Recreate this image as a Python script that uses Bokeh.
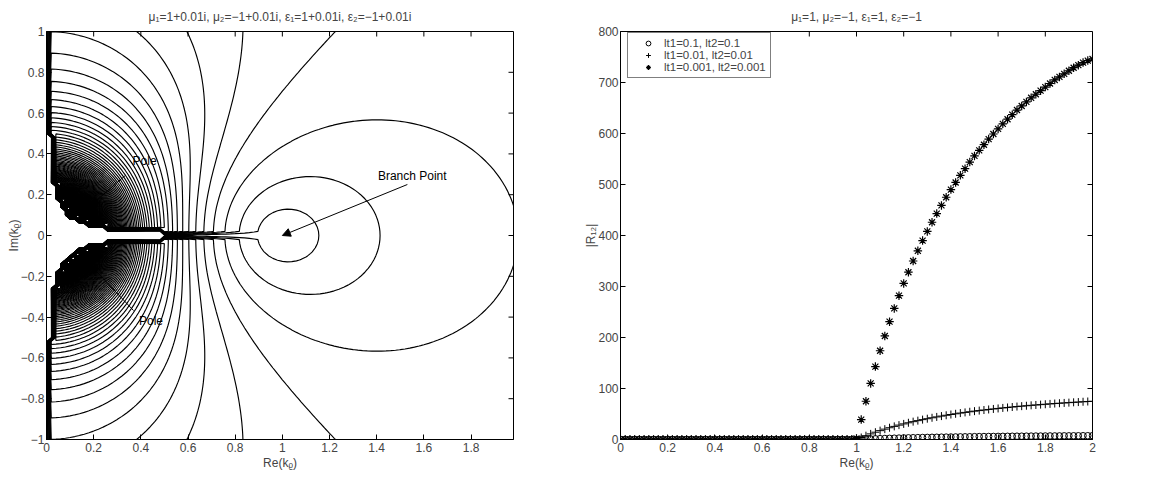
import numpy as np
from bokeh.plotting import figure
from bokeh.layouts import row
from bokeh.models import (FixedTicker, Range1d, Label, Arrow, NormalHead,
                          Legend, LegendItem, CustomJSTickFormatter)
from bokeh.embed import file_html
from bokeh.resources import INLINE

FONT = "Liberation Sans"
FS = "12px"
LEG_FS = "11.5px"

# ---------------- Left panel: |R12| over the complex k_rho plane ----------------
# material parameters, as given in the panel title
mu1, mu2 = 1 + 0.01j, -1 + 0.01j
eps1, eps2 = 1 + 0.01j, -1 + 0.01j
re_kr = np.linspace(0.0, 1.98, 100)      # Re(k_rho) sample grid
im_kr = np.linspace(-1.0, 1.0, 101)      # Im(k_rho) sample grid
contour_levels = np.arange(25, 5001, 25)  # |R12| contour levels

kr = re_kr[None, :] + 1j * im_kr[:, None]
kz1 = 1j * np.sqrt(kr ** 2 - mu1 * eps1)
kz2 = 1j * np.sqrt(kr ** 2 - mu2 * eps2)
R12_abs = np.abs((mu2 * kz1 - mu1 * kz2) / (mu2 * kz1 + mu1 * kz2))

left_xrange = (0, 1.98)
left_yrange = (-1, 1)
left_xticks = [0, 0.2, 0.4, 0.6, 0.8, 1, 1.2, 1.4, 1.6, 1.8]
left_yticks = [-1, -0.8, -0.6, -0.4, -0.2, 0, 0.2, 0.4, 0.6, 0.8, 1]

# annotations: text position and arrow (start -> end) in data units
pole_labels = ["Pole", "Pole"]
pole_text_xy = [(0.365, 0.365), (0.392, -0.42)]
pole_arrows = [(0.335, 0.295, 0.19, 0.15), (0.369, -0.368, 0.19, -0.15)]
branch_label = "Branch Point"
branch_text_xy = (1.405, 0.292)
branch_arrow = (1.53, 0.25, 1.0, 0.0)

# ---------------- Right panel: |R12| along the real axis ----------------
kr_pts = [round(0.02 * i, 2) for i in range(101)]
zeros_below_1 = [0.0, 0.0, 0.0, 0.0, 0.0, 0.0, 0.0, 0.0, 0.0, 0.0,
                 0.0, 0.0, 0.0, 0.0, 0.0, 0.0, 0.0, 0.0, 0.0, 0.0,
                 0.0, 0.0, 0.0, 0.0, 0.0, 0.0, 0.0, 0.0, 0.0, 0.0,
                 0.0, 0.0, 0.0, 0.0, 0.0, 0.0, 0.0, 0.0, 0.0, 0.0,
                 0.0, 0.0, 0.0, 0.0, 0.0, 0.0, 0.0, 0.0, 0.0, 0.0]
r12_lt_0p1 = zeros_below_1 + [
    0.0, 0.4, 0.8, 1.1, 1.4, 1.7, 2.0, 2.3, 2.6, 2.8, 3.1, 3.3, 3.5, 3.7, 3.9, 4.1,
    4.3, 4.4, 4.6, 4.7, 4.9, 5.0, 5.2, 5.3, 5.4, 5.6, 5.7, 5.8, 5.9, 6.0, 6.1, 6.2,
    6.3, 6.4, 6.5, 6.5, 6.6, 6.7, 6.8, 6.8, 6.9, 7.0, 7.0, 7.1, 7.2, 7.2, 7.3, 7.3,
    7.4, 7.4, 7.5]
r12_lt_0p01 = zeros_below_1 + [
    0.5, 3.9, 7.5, 11.0, 14.3, 17.4, 20.3, 23.1, 25.7, 28.2, 30.6, 32.8, 35.0, 37.0,
    39.0, 40.8, 42.6, 44.3, 45.9, 47.5, 49.0, 50.4, 51.8, 53.1, 54.4, 55.6, 56.7,
    57.8, 58.9, 59.9, 60.9, 61.9, 62.8, 63.7, 64.6, 65.4, 66.2, 67.0, 67.7, 68.4,
    69.1, 69.8, 70.5, 71.1, 71.7, 72.3, 72.9, 73.4, 74.0, 74.5, 75.0]
r12_lt_0p001 = zeros_below_1 + [
    2, 39, 75, 110, 143, 174, 203, 231, 257, 282, 306, 328, 350, 370, 390, 408, 426,
    443, 459, 475, 490, 504, 518, 531, 544, 556, 567, 578, 589, 599, 609, 619, 628,
    637, 646, 654, 662, 670, 677, 684, 691, 698, 705, 711, 717, 723, 729, 734, 739,
    743, 746]
legend_labels = ["lt1=0.1, lt2=0.1", "lt1=0.01, lt2=0.01", "lt1=0.001, lt2=0.001"]
right_xrange = (0, 2)
right_yrange = (0, 800)
right_xticks = [0, 0.2, 0.4, 0.6, 0.8, 1, 1.2, 1.4, 1.6, 1.8, 2]
right_yticks = [0, 100, 200, 300, 400, 500, 600, 700, 800]

left_title = "\u03bc\u2081=1+0.01i, \u03bc\u2082=\u22121+0.01i, \u03b5\u2081=1+0.01i, \u03b5\u2082=\u22121+0.01i"
right_title = "\u03bc\u2081=1, \u03bc\u2082=\u22121, \u03b5\u2081=1, \u03b5\u2082=\u22121"
xlabel = "Re(k\u1d68)"
left_ylabel = "Im(k\u1d68)"
right_ylabel = "|R\u2081\u2082|"

minus_fmt_code = "return String(tick).replace('-', '\u2212');"
TICK = 5  # inward tick length, px


def matlab_axes(p, xticks, yticks, xr, yr, xlab, ylab, title):
    p.title.text = title
    p.title.align = "center"
    p.title.text_font = FONT
    p.title.text_font_size = FS
    p.title.text_font_style = "normal"
    p.title.standoff = 15
    p.grid.visible = False
    p.outline_line_color = "black"
    p.outline_line_width = 1
    p.background_fill_color = "white"
    p.border_fill_color = "white"
    for ax, ticks, lab in ((p.xaxis[0], xticks, xlab), (p.yaxis[0], yticks, ylab)):
        ax.ticker = FixedTicker(ticks=ticks)
        ax.formatter = CustomJSTickFormatter(code=minus_fmt_code)
        ax.axis_label = lab
        ax.axis_label_text_font = FONT
        ax.axis_label_text_font_size = FS
        ax.axis_label_text_font_style = "normal"
        ax.major_label_text_font = FONT
        ax.major_label_text_font_size = FS
        ax.axis_line_color = "black"
        ax.major_tick_line_color = "black"
        ax.major_tick_in = TICK
        ax.major_tick_out = 0
        ax.minor_tick_line_color = None
    p.xaxis[0].axis_label_standoff = 1
    p.xaxis[0].major_label_standoff = 3
    p.yaxis[0].axis_label_standoff = -3
    p.yaxis[0].major_label_standoff = 2
    # mirrored inward ticks on the top and right edges of the box
    p.ray(x=xticks, y=[yr[1]] * len(xticks), length=TICK, length_units="screen",
          angle=-np.pi / 2, line_color="black", line_width=1)
    p.ray(x=[xr[1]] * len(yticks), y=yticks, length=TICK, length_units="screen",
          angle=np.pi, line_color="black", line_width=1)


# ---------------- build left figure ----------------
p1 = figure(frame_width=467, frame_height=408, x_range=Range1d(*left_xrange),
            y_range=Range1d(*left_yrange), output_backend="svg", toolbar_location=None,
            min_border_left=46, min_border_right=67, min_border_top=31, min_border_bottom=36)
p1.contour(x=re_kr, y=im_kr, z=R12_abs, levels=contour_levels, line_color="black", line_width=1.15)
matlab_axes(p1, left_xticks, left_yticks, left_xrange, left_yrange, xlabel, left_ylabel, left_title)

for lab, (tx, ty), (xs, ys, xe, ye) in zip(pole_labels, pole_text_xy, pole_arrows):
    p1.add_layout(Label(x=tx, y=ty, text=lab, text_font=FONT, text_font_size=FS,
                        text_baseline="middle", text_color="black"))
    p1.add_layout(Arrow(end=NormalHead(size=7, fill_color="black", line_color="black"),
                        x_start=xs, y_start=ys, x_end=xe, y_end=ye,
                        line_color="black", line_width=1))
p1.add_layout(Label(x=branch_text_xy[0], y=branch_text_xy[1], text=branch_label, text_font=FONT,
                    text_font_size=FS, text_baseline="middle", text_color="black"))
p1.add_layout(Arrow(end=NormalHead(size=8, fill_color="black", line_color="black"),
                    x_start=branch_arrow[0], y_start=branch_arrow[1],
                    x_end=branch_arrow[2], y_end=branch_arrow[3],
                    line_color="black", line_width=1))

# ---------------- build right figure ----------------
p2 = figure(frame_width=472, frame_height=408, x_range=Range1d(*right_xrange),
            y_range=Range1d(*right_yrange), output_backend="svg", toolbar_location=None,
            min_border_left=40, min_border_right=55, min_border_top=31, min_border_bottom=36)
r1 = p2.scatter(kr_pts, r12_lt_0p1, marker="circle", size=6.5, fill_color=None,
                line_color="black", line_width=1)
r2 = p2.scatter(kr_pts, r12_lt_0p01, marker="cross", size=8, line_color="black", line_width=1)
r3 = p2.scatter(kr_pts, r12_lt_0p001, marker="asterisk", size=8.5, line_color="black",
                line_width=1.2)
matlab_axes(p2, right_xticks, right_yticks, right_xrange, right_yrange, xlabel, right_ylabel,
            right_title)

legend = Legend(items=[LegendItem(label=legend_labels[0], renderers=[r1]),
                       LegendItem(label=legend_labels[1], renderers=[r2]),
                       LegendItem(label=legend_labels[2], renderers=[r3])],
                location=(7, 361), margin=0, padding=4, spacing=0,
                glyph_width=32, glyph_height=12, label_height=12, label_standoff=0,
                label_text_font=FONT, label_text_font_size=LEG_FS,
                border_line_color="black", border_line_width=1,
                background_fill_color="white", background_fill_alpha=1)
p2.add_layout(legend)

layout = row(p1, p2)
open("out.html", "w").write(file_html(layout, INLINE))
